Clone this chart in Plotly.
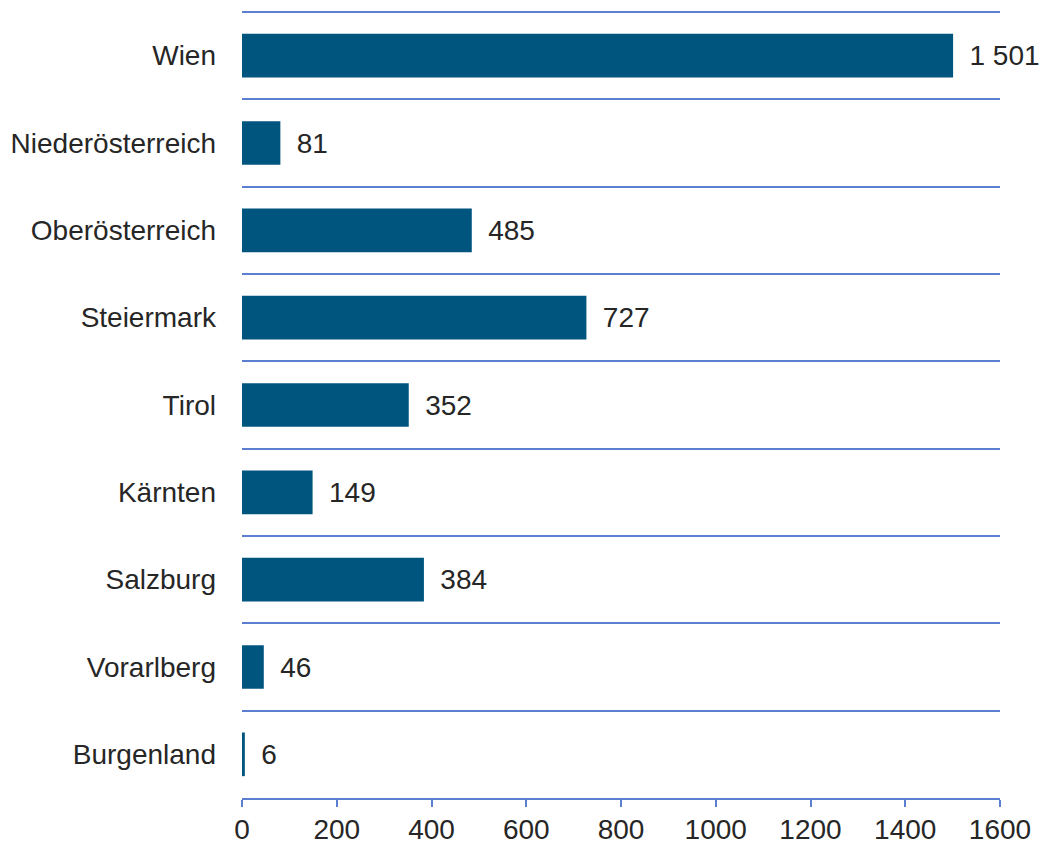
import plotly.graph_objects as go

categories = ["Wien", "Niederösterreich", "Oberösterreich", "Steiermark", "Tirol",
              "Kärnten", "Salzburg", "Vorarlberg", "Burgenland"]
values = [1501, 81, 485, 727, 352, 149, 384, 46, 6]
value_labels = ["1 501", "81", "485", "727", "352", "149", "384", "46", "6"]
x_ticks = [0, 200, 400, 600, 800, 1000, 1200, 1400, 1600]

BAR = "#00557F"
LINE = "#5B80D2"
TXT = "#262626"
FONT = "Liberation Sans, Arial, sans-serif"
FS = 28

fig = go.Figure(go.Bar(
    x=values, y=categories, orientation="h",
    marker=dict(color=BAR, line=dict(width=0)),
    width=0.5,
    text=[" \u2009" + t for t in value_labels],
    textposition="outside",
    textfont=dict(family=FONT, size=FS, color=TXT),
    cliponaxis=False,
    constraintext="none",
))

fig.update_layout(
    width=1040, height=845,
    margin=dict(l=242, r=40, t=12, b=47),
    paper_bgcolor="white", plot_bgcolor="white",
    showlegend=False,
    font=dict(family=FONT, size=FS, color=TXT),
    shapes=[dict(type="line", xref="paper", yref="paper", x0=0, x1=1, y0=1, y1=1,
                 line=dict(color=LINE, width=2))],
)
fig.update_xaxes(
    range=[0, 1600], tickvals=x_ticks, ticktext=[str(v) for v in x_ticks],
    showgrid=False, zeroline=False, automargin=False,
    showline=True, linecolor=LINE, linewidth=2,
    ticks="outside", ticklen=7, tickwidth=2, tickcolor=LINE,
    ticklabelstandoff=-2,
    tickfont=dict(family=FONT, size=FS, color=TXT),
)
fig.update_yaxes(
    autorange="reversed", type="category", automargin=False,
    tickson="boundaries", showgrid=True, gridcolor=LINE, gridwidth=2,
    ticks="", showline=False, zeroline=False,
    ticklabelstandoff=25,
    tickfont=dict(family=FONT, size=FS, color=TXT),
)

fig.write_html(
    "out.html",
    config={"displayModeBar": False},
    post_script="document.body.style.margin='0';document.body.style.overflow='hidden';",
)
